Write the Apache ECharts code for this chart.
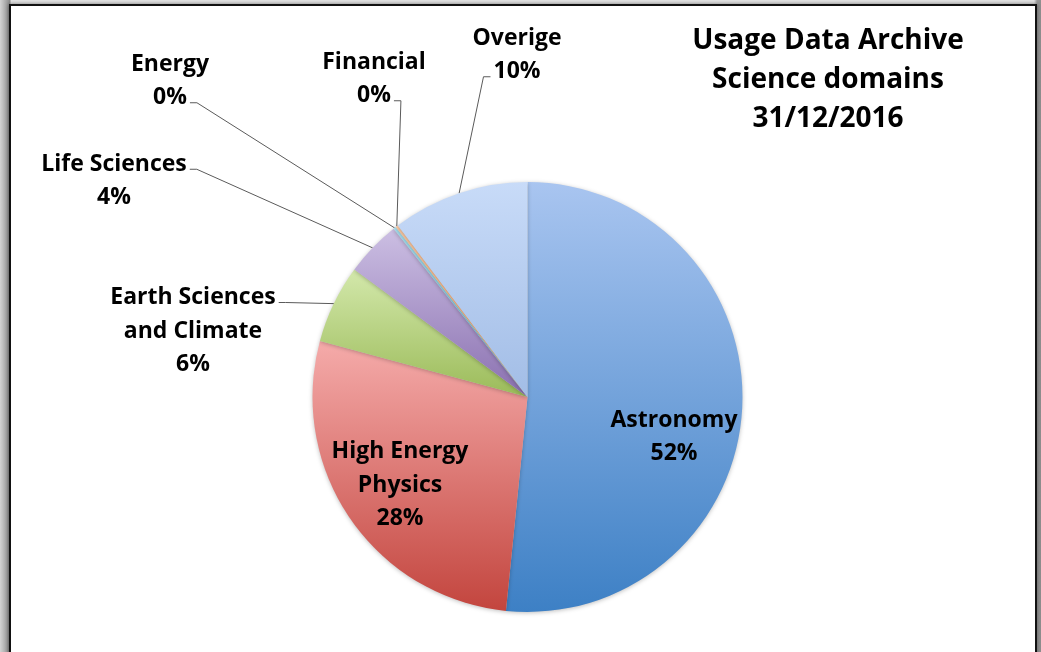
<!DOCTYPE html>
<html>
<head>
<meta charset="utf-8">
<script src="https://cdn.jsdelivr.net/npm/echarts@6/dist/echarts.min.js"></script>
<style>
  html, body { margin: 0; padding: 0; }
  body {
    width: 1041px; height: 652px; overflow: hidden; position: relative;
    background: linear-gradient(to right, #d4d4d4 0px, #8c8c8c 10px, #e4e4e4 11px, #e4e4e4 1034px, #9a9a9a 1037px, #8f8f8f 1041px);
  }
  #frame {
    position: absolute; left: 9px; top: 4px; width: 1024px; height: 700px;
    border: 2px solid #111; background: #fff;
    box-shadow: 0 0 4px rgba(0, 0, 0, 0.5);
  }
  #main { position: absolute; left: 0; top: 0; width: 1041px; height: 652px; }
</style>
</head>
<body>
<div id="frame"></div>
<div id="main"></div>
<script>
// slice data, clockwise from 12 o'clock
var names = ["Astronomy", "High Energy\nPhysics", "Earth Sciences\nand Climate", "Life Sciences", "Energy", "Financial", "Overige"];
var values = [51.6, 27.6, 5.9, 4.2, 0.2, 0.2, 10.3];
var topColors = ["#a9c5f0", "#f5abaa", "#d3e8ab", "#ccbfe3", "#a9e0f1", "#fbc9a4", "#c8dbf8"];
var bottomColors = ["#3d80c5", "#c3453e", "#9bbb59", "#8a70b0", "#5fb9d3", "#f7a265", "#a2bde6"];

// label placement (centre of each text block) and where its leader line attaches
var labelPos = [[674, 437], [400, 485], [193, 331], [114, 181], [170, 81], [374, 79], [517, 55]];
var labelLink = [null, null, { side: "right", row: 0 }, { side: "right", row: 0 },
  { side: "right", row: 1 }, { side: "right", row: 1 }, { side: "left", row: 1 }];

var FONT = '"Open Sans", "DejaVu Sans", sans-serif';
var LABEL_SIZE = 23;
var LINE_H = 33.5;

var measureCtx = document.createElement("canvas").getContext("2d");
function textWidth(t) {
  measureCtx.font = "bold " + LABEL_SIZE + "px " + FONT;
  return measureCtx.measureText(t).width;
}

var seriesData = names.map(function (n, i) {
  var item = {
    name: n,
    value: values[i],
    itemStyle: {
      color: {
        type: "linear", x: 0, y: 0, x2: 0, y2: 1,
        colorStops: [
          { offset: 0, color: topColors[i] },
          { offset: 1, color: bottomColors[i] },
        ],
      },
    },
  };
  if (!labelLink[i]) {
    item.labelLine = { show: false };
  }
  return item;
});

var chartDom = document.getElementById("main");
var myChart = echarts.init(chartDom);
var option;

option = {
  animation: false,
  title: {
    text: "Usage Data Archive\nScience domains\n31/12/2016",
    left: 823,
    top: 17,
    textAlign: "center",
    textStyle: {
      fontFamily: FONT,
      fontSize: 28,
      fontWeight: "bold",
      lineHeight: 39,
      color: "#000",
    },
  },
  series: [
    {
      type: "pie",
      center: [527.5, 397],
      radius: 215,
      startAngle: 90,
      clockwise: true,
      avoidLabelOverlap: false,
      minShowLabelAngle: 0,
      itemStyle: {
        borderWidth: 0,
        shadowBlur: 4,
        shadowOffsetY: 1,
        shadowColor: "rgba(0,0,0,0.25)",
      },
      label: {
        show: true,
        position: "outside",
        formatter: function (p) {
          return p.name + "\n" + Math.round(p.percent) + "%";
        },
        fontFamily: FONT,
        fontSize: LABEL_SIZE,
        fontWeight: "bold",
        lineHeight: LINE_H,
        color: "#000",
        align: "center",
      },
      labelLine: {
        show: true,
        length: 10,
        length2: 10,
        lineStyle: { color: "#5a5a5a", width: 1 },
      },
      labelLayout: function (p) {
        var pos = labelPos[p.dataIndex];
        var out = { x: pos[0], y: pos[1], align: "center", verticalAlign: "middle" };
        var link = labelLink[p.dataIndex];
        if (link && p.labelLinePoints) {
          var lines = p.text.split("\n");
          var h = lines.length * LINE_H;
          var w = textWidth(lines[link.row]);
          var ay = pos[1] - h / 2 + LINE_H * (link.row + 0.5) + 5;
          var ax = link.side === "right" ? pos[0] + w / 2 + 3 : pos[0] - w / 2 - 3;
          var ex = link.side === "right" ? ax + 7 : ax - 7;
          out.labelLinePoints = [p.labelLinePoints[0], [ex, ay], [ax, ay]];
        }
        return out;
      },
      data: seriesData,
    },
  ],
};

option && myChart.setOption(option);
</script>
</body>
</html>
